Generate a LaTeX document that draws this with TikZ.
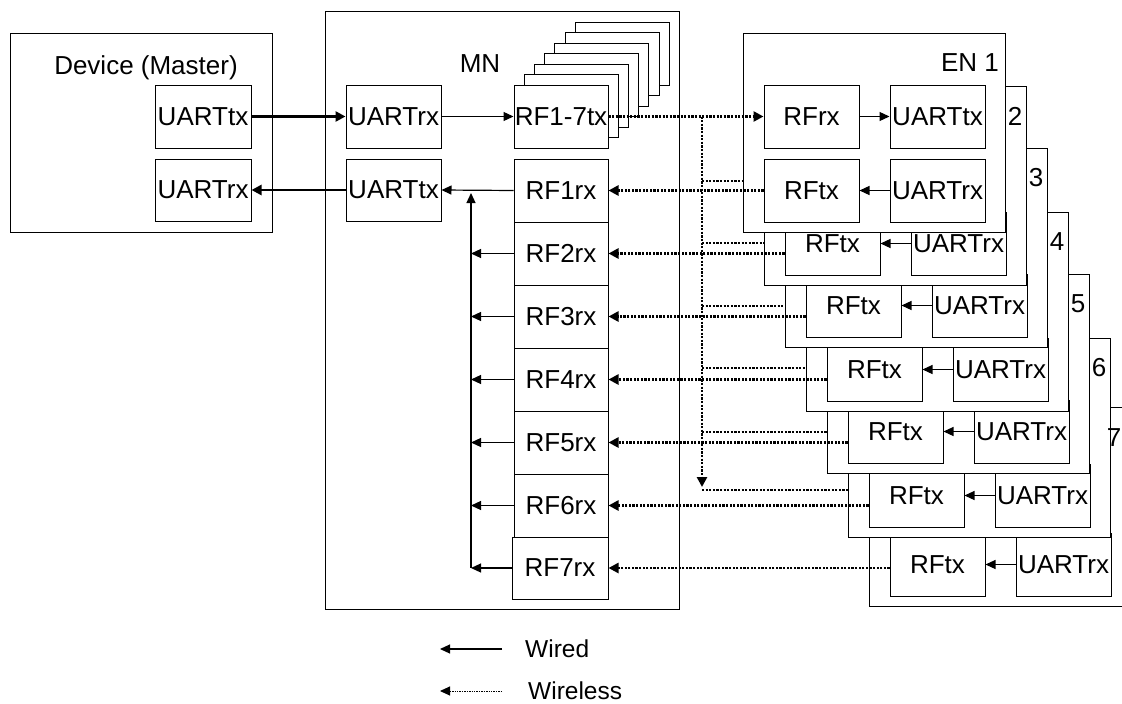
\documentclass[tikz,border=0pt]{standalone}
\usepackage{fontspec}
\setmainfont{Liberation Sans}
\usetikzlibrary{arrows.meta}
\newcommand\bxnode[6]{\node[bx, minimum width={(#4)-(#2)}, minimum height={(#5)-(#3)}] (#1) at ({((#2)+(#4))/2},{((#3)+(#5))/2}) {#6};}
\begin{document}
\begin{tikzpicture}[x=1pt,y=-1pt,
  bx/.style={draw, line width=1pt, fill=white, inner sep=0pt, font=\fontsize{26}{30}\selectfont},
  lbl/.style={inner sep=0pt, font=\fontsize{26}{30}\selectfont},
  leglbl/.style={inner sep=0pt, anchor=west, font=\fontsize{24.5}{28}\selectfont},
  tip/.style={-{Triangle[length=10pt,width=9pt]}},
  wire/.style={line width=1.2pt, tip},
  heavy/.style={line width=2.6pt, -{Triangle[length=10pt,width=10pt]}},
  radio/.style={line width=2.6pt, dash pattern=on 2.2pt off 1.4pt},
  radioarrow/.style={radio, -{Triangle[length=10pt,width=10pt]}},
  legradio/.style={line width=1pt, dash pattern=on 1pt off 0.7pt, tip}
]
\useasboundingbox (0,0) rectangle (1122,704);
\clip (0,0) rectangle (1122,704);
\fill[white] (0,0) rectangle (1122,704);

% Device (Master)
\bxnode{dev}{10}{33}{272}{232}{}
\node[lbl] (devt) at (146,68) {Device (Master)};
\bxnode{devtx}{155}{85}{251}{148}{UARTtx}
\bxnode{devrx}{155}{159}{251}{221}{UARTrx}

% MN
\bxnode{mn}{325}{11}{679}{609}{}
\node[lbl] (mnt) at (480,64) {MN};
\bxnode{mnrx}{346}{85}{441}{148}{UARTrx}
\bxnode{mntx}{346}{159}{441}{221}{UARTtx}
\foreach \k in {6,5,...,1}{
  \bxnode{st\k}{514+10.2*\k}{85-10.5*\k}{608+10.2*\k}{148-10.5*\k}{}
}
\bxnode{rftx}{514}{85}{608}{148}{RF1-7tx}
\foreach \n in {1,...,6}{
  \bxnode{rx\n}{514}{159+63*(\n-1)}{608}{222+63*(\n-1)}{RF\n rx}
}
\bxnode{rx7}{512}{537}{608}{599}{RF7rx}

% EN boxes 7..2
\foreach \n/\T in {7/407,6/338,5/274,4/212,3/148,2/86}{
  \pgfmathsetmacro\L{743+21*(\n-1)}
  \bxnode{en\n}{\L}{\T}{\L+262}{\T+199}{}
  \bxnode{entx\n}{\L+21}{\T+126}{\L+116}{\T+189}{RFtx}
  \bxnode{enrx\n}{\L+147}{\T+126}{\L+242}{\T+189}{UARTrx}
  \draw[wire] (enrx\n.west) -- (entx\n.east);
}
\foreach \n/\T in {6/338,5/274,4/212,3/148,2/86}{
  \pgfmathsetmacro\L{743+21*(\n-1)}
  \node[lbl] (enl\n) at (\L+251,\T+30) {\n};
}
\node[lbl] (enl7) at (1114,438) {7};
% EN 1
\bxnode{en1}{743}{33}{1005}{232}{}
\node[lbl, anchor=east] (enl1) at (999,63) {EN 1};
\bxnode{enrf1}{764}{85}{859}{148}{RFrx}
\bxnode{enut1}{890}{85}{985}{148}{UARTtx}
\bxnode{entx1}{764}{159}{859}{222}{RFtx}
\bxnode{enrx1}{890}{159}{985}{222}{UARTrx}
\draw[wire] (enrf1.east) -- (enut1.west);
\draw[wire] (enrx1.west) -- (entx1.east);

% wired links
\draw[heavy] (devtx.east) -- (mnrx.west);
\draw[heavy] (mntx.west) -- (devrx.east);
\draw[wire] (mnrx.east) -- (rftx.west);
\draw[wire] (rx1.west) -- (mntx.east);
\coordinate (busb) at (471,567.5);
\coordinate (bust) at (471,193);
\draw[wire] (busb) -- (bust);
\foreach \n in {2,...,7}{
  \draw[wire] (rx\n.west) -- (rx\n.west -| busb);
}

% wireless links
\coordinate (vt) at (702,116.5);
\coordinate (vb) at (702,487);
\draw[radioarrow] (rftx.east) -- (enrf1.west);
\draw[radioarrow] (vt) -- (vb);
\foreach \n/\y in {1/181,2/243,3/306,4/368,5/432,6/490}{
  \coordinate (br\n) at (702,\y);
  \draw[radio] (br\n) -- (br\n -| en\n.west);
}
\foreach \n in {1,...,7}{
  \draw[radioarrow] (entx\n.west |- rx\n.east) -- (rx\n.east);
}

% legend
\coordinate (lw1) at (502,649);
\coordinate (lw2) at (440,649);
\draw[line width=1.2pt, tip] (lw1) -- (lw2);
\node[leglbl] (lwt) at (525,649) {Wired};
\coordinate (ll1) at (502,691);
\coordinate (ll2) at (440,691);
\draw[legradio] (ll1) -- (ll2);
\node[leglbl] (llt) at (528,691) {Wireless};
\end{tikzpicture}
\end{document}
